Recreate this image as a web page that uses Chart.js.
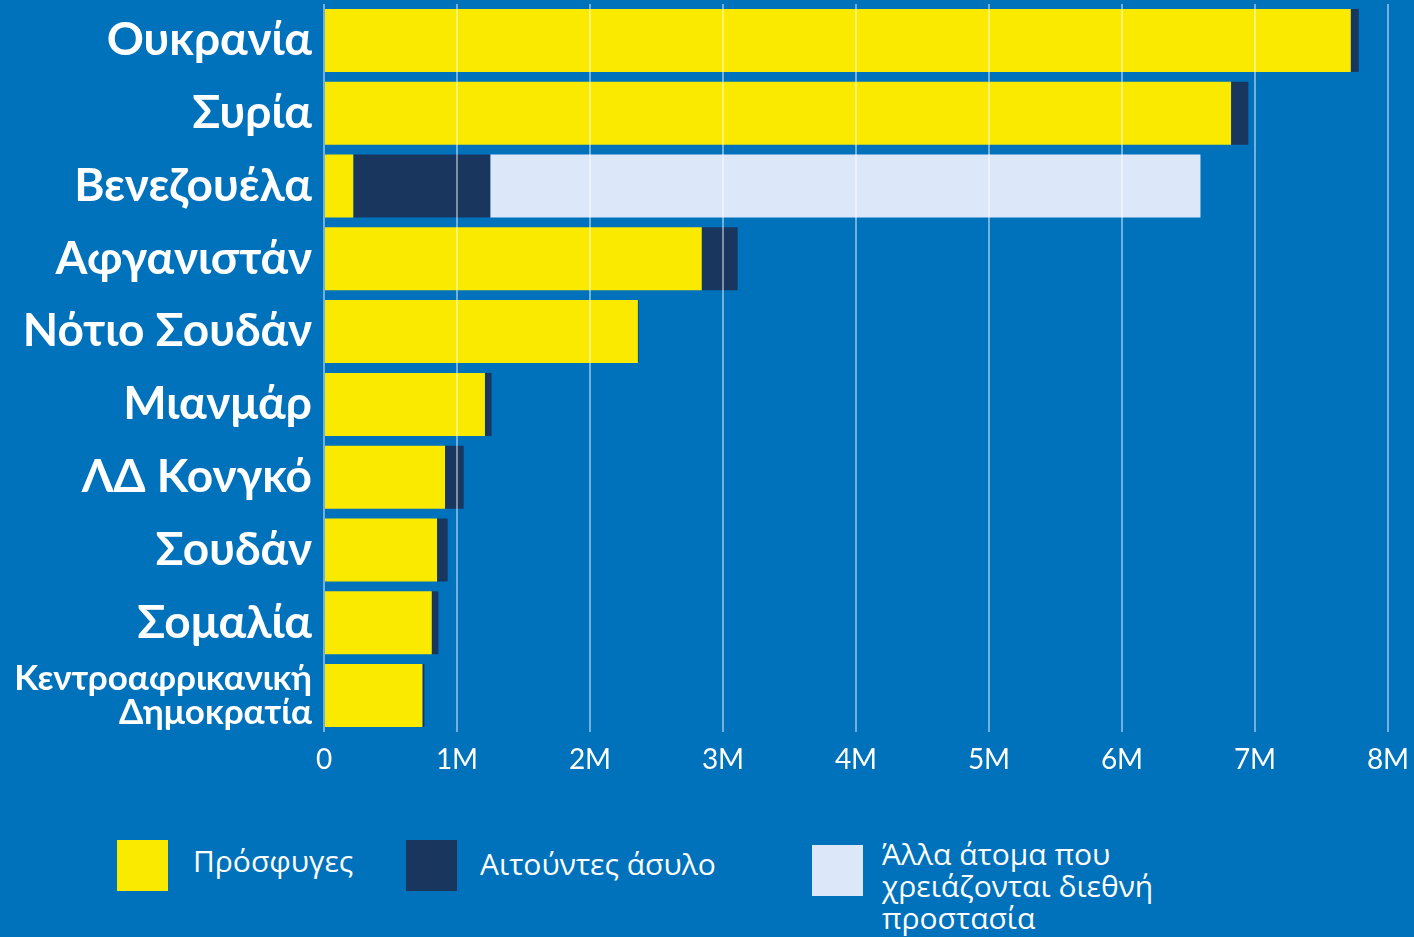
<!DOCTYPE html>
<html>
<head>
<meta charset="utf-8">
<script src="https://cdn.jsdelivr.net/npm/chart.js@4/dist/chart.umd.min.js"></script>
<style>
  html, body { margin: 0; padding: 0; background: #0072BC; width: 1414px; height: 937px; overflow: hidden; }
  #wrap { position: absolute; left: 0; top: 0; width: 1414px; height: 792px; }
  .leg { position: absolute; color: #fff; font-family: "Liberation Sans Narrow", "Open Sans", sans-serif; font-size: 30px; line-height: 32px; }
  .box { position: absolute; width: 51px; height: 51px; }
</style>
</head>
<body>
<div id="wrap"><canvas id="c"></canvas></div>
<div class="box" style="left:117px;top:840px;background:#F9EA00"></div>
<div class="leg" style="left:193px;top:845px">Πρόσφυγες</div>
<div class="box" style="left:406px;top:840px;background:#18365E"></div>
<div class="leg" style="left:480px;top:848px">Αιτούντες άσυλο</div>
<div class="box" style="left:812px;top:845px;background:#DCE8FA"></div>
<div class="leg" style="left:882px;top:838px">Άλλα άτομα που<br>χρειάζονται διεθνή<br>προστασία</div>
<script>
const categories = ["Ουκρανία", "Συρία", "Βενεζουέλα", "Αφγανιστάν", "Νότιο Σουδάν", "Μιανμάρ", "ΛΔ Κονγκό", "Σουδάν", "Σομαλία", ["Κεντροαφρικανική", "Δημοκρατία"]];
const refugees = [7.72, 6.82, 0.22, 2.84, 2.36, 1.21, 0.91, 0.85, 0.81, 0.74];
const asylumSeekers = [0.06, 0.13, 1.03, 0.27, 0.005, 0.05, 0.14, 0.08, 0.05, 0.015];
const otherInNeed = [0, 0, 5.34, 0, 0, 0, 0, 0, 0, 0];
const seriesNames = ["Πρόσφυγες", "Αιτούντες άσυλο", "Άλλα άτομα που χρειάζονται διεθνή προστασία"];
const xTicks = [0, 1, 2, 3, 4, 5, 6, 7, 8];
const tickLabels = ["0", "1M", "2M", "3M", "4M", "5M", "6M", "7M", "8M"];

const M = 1e6;
new Chart(document.getElementById('c'), {
  type: 'bar',
  data: {
    labels: categories,
    datasets: [
      { label: seriesNames[0], data: refugees.map(v => v * M), backgroundColor: '#F9EA00' },
      { label: seriesNames[1], data: asylumSeekers.map(v => v * M), backgroundColor: '#18365E' },
      { label: seriesNames[2], data: otherInNeed.map(v => v * M), backgroundColor: '#DCE8FA' }
    ]
  },
  options: {
    indexAxis: 'y',
    responsive: true,
    maintainAspectRatio: false,
    animation: false,
    devicePixelRatio: 1,
    layout: { padding: { top: 4, right: 26, left: 0, bottom: 0 } },
    datasets: { bar: { categoryPercentage: 1, barPercentage: 0.865, borderWidth: 0 } },
    plugins: { legend: { display: false }, tooltip: { enabled: false } },
    scales: {
      x: {
        stacked: true,
        min: 0, max: 8 * M,
        afterBuildTicks: s => { s.ticks = xTicks.map(v => ({ value: v * M })); },
        afterFit: s => { s.height = 60; s.paddingLeft = 0; s.paddingRight = 0; },
        border: { display: false },
        grid: { color: 'rgba(255,255,255,0.45)', lineWidth: 2, drawTicks: false, z: 1 },
        ticks: {
          color: '#fff', padding: 11, maxRotation: 0,
          font: { family: 'Lato, sans-serif', size: 28 },
          callback: (v, i) => tickLabels[i]
        }
      },
      y: {
        stacked: true,
        afterFit: s => { s.width = 324; s.paddingTop = 0; s.paddingBottom = 0; },
        border: { display: false },
        grid: { display: false },
        ticks: {
          color: '#fff', padding: 4, autoSkip: false,
          font: ctx => (ctx.index === 9
            ? { family: 'Lato, sans-serif', size: 35, weight: 'bold', lineHeight: 0.95 }
            : { family: 'Lato, sans-serif', size: 46, weight: 'bold' })
        }
      }
    }
  }
});
</script>
</body>
</html>
